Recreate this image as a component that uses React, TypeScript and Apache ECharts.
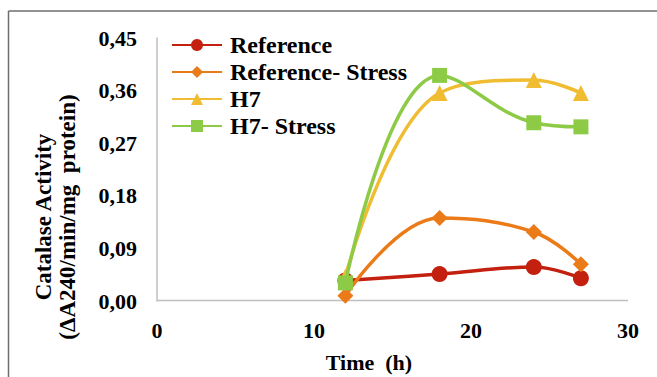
import React, { useEffect, useRef } from "react";
import * as echarts from "echarts";

const times = [12, 18, 24, 27];
const seriesNames = ["Reference", "Reference- Stress", "H7", "H7- Stress"];
const reference = [0.035, 0.046, 0.058, 0.039];
const referenceStress = [0.009, 0.142, 0.118, 0.063];
const h7 = [0.042, 0.356, 0.378, 0.356];
const h7Stress = [0.031, 0.386, 0.305, 0.298];
const colors = ["#C3200F", "#EB7A18", "#F0BD32", "#8DCB47"];
const symbols = ["circle", "diamond", "triangle", "rect"];
const symbolSizes = [16, 16, 16, 15];

const FONT = "'Times New Roman', 'Liberation Serif', serif";

export default function App() {
  const ref = useRef<HTMLDivElement>(null);
  useEffect(() => {
    if (!ref.current) return;
    const chart = echarts.init(ref.current, undefined, { renderer: "svg" });
    const all = [reference, referenceStress, h7, h7Stress];
    chart.setOption({
      animation: false,
      backgroundColor: "#ffffff",
      grid: { left: 157, right: 29, top: 38, bottom: 76 },
      legend: {
        orient: "vertical",
        left: 171,
        top: 33,
        padding: 0,
        itemWidth: 50,
        itemHeight: 15,
        itemGap: 3,
        data: seriesNames,
        textStyle: {
          fontFamily: FONT,
          fontWeight: "bold",
          fontSize: 24,
          lineHeight: 24,
          color: "#000",
          padding: [0, 0, 0, 3],
        },
      },
      xAxis: {
        type: "value",
        min: 0,
        max: 30,
        interval: 10,
        axisLine: { show: false },
        axisTick: { show: false },
        splitLine: { show: false },
        axisLabel: {
          fontFamily: FONT,
          fontWeight: "bold",
          fontSize: 22,
          color: "#000",
          margin: 18,
        },
      },
      yAxis: {
        type: "value",
        min: 0,
        max: 0.45,
        interval: 0.09,
        axisLine: { show: true, lineStyle: { color: "#BFBFBF", width: 1.5 } },
        axisTick: { show: false },
        splitLine: { show: false },
        axisLabel: {
          fontFamily: FONT,
          fontWeight: "bold",
          fontSize: 22,
          color: "#000",
          margin: 20,
          formatter: (v: number) => v.toFixed(2).replace(".", ","),
        },
      },
      graphic: [
        {
          type: "line",
          shape: { x1: 8.5, y1: 11, x2: 657, y2: 11 },
          style: { stroke: "#6e6e6e", lineWidth: 1.5 },
        },
        {
          type: "line",
          shape: { x1: 8.5, y1: 11, x2: 8.5, y2: 377 },
          style: { stroke: "#6e6e6e", lineWidth: 1.5 },
        },
        {
          type: "line",
          shape: { x1: 157, y1: 300.5, x2: 628, y2: 300.5 },
          style: { stroke: "#BFBFBF", lineWidth: 1.5 },
          z: 1,
        },
        {
          type: "text",
          x: 55,
          y: 217,
          rotation: Math.PI / 2,
          style: {
            text: "Catalase Activity\n(ΔA240/min/mg  protein)",
            fontFamily: FONT,
            fontWeight: "bold",
            fontSize: 23,
            lineHeight: 24,
            fill: "#000",
            align: "center",
            verticalAlign: "middle",
          },
        },
        {
          type: "text",
          x: 369,
          y: 362,
          style: {
            text: "Time  (h)",
            fontFamily: FONT,
            fontWeight: "bold",
            fontSize: 22,
            fill: "#000",
            align: "center",
            verticalAlign: "middle",
          },
        },
      ],
      series: all.map((vals, i) => ({
        name: seriesNames[i],
        type: "line",
        smooth: 0.4,
        data: times.map((t, j) => [t, vals[j]]),
        symbol: symbols[i],
        symbolSize: symbolSizes[i],
        itemStyle: { color: colors[i] },
        lineStyle: { color: colors[i], width: 3.5 },
        z: 2 + i,
      })),
    });
    return () => chart.dispose();
  }, []);
  return (
    <div
      ref={ref}
      style={{ position: "fixed", left: 0, top: 0, width: 657, height: 377 }}
    />
  );
}
